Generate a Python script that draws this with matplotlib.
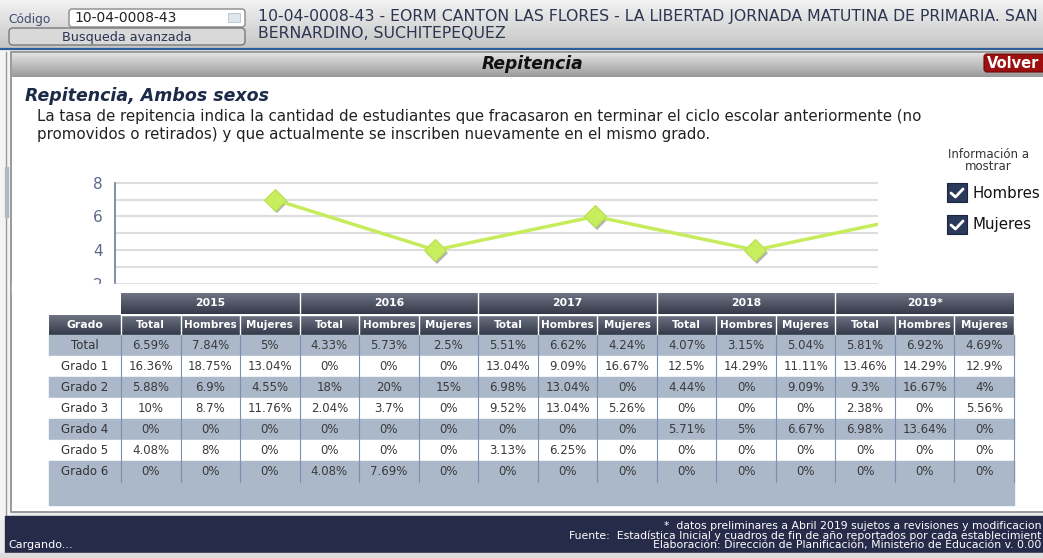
import numpy as np
import matplotlib
matplotlib.use('Agg')
import matplotlib.pyplot as plt
from matplotlib.patches import Rectangle, FancyBboxPatch
from matplotlib.transforms import offset_copy

W, H = 1043, 558

# chart data (rounded total repetition rate per year)
years = ['2015', '2016', '2017', '2018', '2019*']
chart_values = [7, 4, 6, 4, 6]

# table data
grades = ['Total', 'Grado 1', 'Grado 2', 'Grado 3', 'Grado 4', 'Grado 5', 'Grado 6']
subcols = ['Total', 'Hombres', 'Mujeres']
table_values = [
    [6.59, 7.84, 5, 4.33, 5.73, 2.5, 5.51, 6.62, 4.24, 4.07, 3.15, 5.04, 5.81, 6.92, 4.69],
    [16.36, 18.75, 13.04, 0, 0, 0, 13.04, 9.09, 16.67, 12.5, 14.29, 11.11, 13.46, 14.29, 12.9],
    [5.88, 6.9, 4.55, 18, 20, 15, 6.98, 13.04, 0, 4.44, 0, 9.09, 9.3, 16.67, 4],
    [10, 8.7, 11.76, 2.04, 3.7, 0, 9.52, 13.04, 5.26, 0, 0, 0, 2.38, 0, 5.56],
    [0, 0, 0, 0, 0, 0, 0, 0, 0, 5.71, 5, 6.67, 6.98, 13.64, 0],
    [4.08, 8, 0, 0, 0, 0, 3.13, 6.25, 0, 0, 0, 0, 0, 0, 0],
    [0, 0, 0, 4.08, 7.69, 0, 0, 0, 0, 0, 0, 0, 0, 0, 0],
]

fig = plt.figure(figsize=(W / 100, H / 100), dpi=100)

# background page
bg = fig.add_axes([0, 0, 1, 1], zorder=0)
bg.set_xlim(0, W)
bg.set_ylim(H, 0)
bg.axis('off')


def grad(ax, x0, x1, y0, y1, c_top, c_bot, z=1):
    g = np.linspace(0, 1, 50)[:, None]
    a = np.array(matplotlib.colors.to_rgb(c_top))
    b = np.array(matplotlib.colors.to_rgb(c_bot))
    img = (a[None, None, :] * (1 - g[..., None]) + b[None, None, :] * g[..., None])
    ax.imshow(img, extent=(x0, x1, y1, y0), aspect='auto', zorder=z, interpolation='bilinear')


bg.add_patch(Rectangle((0, 0), W, H, color='#ececec', zorder=0))
# top bar
grad(bg, 0, W, 0, 48, '#f2f2f2', '#c6c6c6')
bg.plot([0, W], [48.5, 48.5], color='#2f5f9a', lw=1.6, zorder=2)
bg.text(8, 19, 'Código', fontsize=8.8, color='#3c4d70', va='center', zorder=3)
bg.add_patch(FancyBboxPatch((69, 9), 176, 18, boxstyle='round,pad=0,rounding_size=3',
                            fc='white', ec='#8a8a8a', lw=1, zorder=3))
bg.text(74, 17.5, '10-04-0008-43', fontsize=10, color='#222222', va='center', zorder=4)
bg.add_patch(Rectangle((228, 13), 12, 9, fc='#e0e6ee', ec='#b8c0cc', lw=0.6, zorder=4))
bg.add_patch(FancyBboxPatch((9, 28), 236, 17, boxstyle='round,pad=0,rounding_size=4',
                            fc='#d9d9d9', ec='#7a7a7a', lw=1, zorder=3))
bg.text(127, 37, 'Busqueda avanzada', fontsize=9.2, color='#2a3350', ha='center', va='center', zorder=4)
bg.text(258, 17, '10-04-0008-43 - EORM CANTON LAS FLORES - LA LIBERTAD JORNADA MATUTINA DE PRIMARIA. SAN',
        fontsize=11.3, color='#2e3550', va='center', zorder=3)
bg.text(258, 33, 'BERNARDINO, SUCHITEPEQUEZ', fontsize=11.3, color='#2e3550', va='center', zorder=3)

# left strip
bg.add_patch(Rectangle((0, 49), 10, 470, color='#f4f4f4', zorder=1))
bg.plot([6, 6], [52, 515], color='#9a9a9a', lw=1, zorder=2)
bg.add_patch(Rectangle((5, 167), 3, 50, color='#b0b8c8', zorder=2))

# panel
bg.add_patch(Rectangle((11, 52), W, 460, fc='white', ec='#8a8a8a', lw=1.2, zorder=1))
grad(bg, 12, W, 53, 77, '#e2e2e2', '#9a9a9a', z=2)
bg.text(532, 64, 'Repitencia', fontsize=12.3, fontweight='bold', fontstyle='italic',
        color='#111111', ha='center', va='center', zorder=3)
bg.add_patch(FancyBboxPatch((984, 54), 62, 18, boxstyle='round,pad=0,rounding_size=3',
                            fc='#9e1010', ec='#6a0808', lw=0.8, zorder=3))
bg.text(1013, 63, 'Volver', fontsize=10.5, fontweight='bold', color='white', ha='center', va='center', zorder=4)

bg.text(25, 96, 'Repitencia, Ambos sexos', fontsize=12.5, fontweight='bold', fontstyle='italic',
        color='#1b2a48', va='center', zorder=3)
bg.text(37, 117, 'La tasa de repitencia indica la cantidad de estudiantes que fracasaron en terminar el ciclo escolar anteriormente (no',
        fontsize=10.8, color='#222222', va='center', zorder=3)
bg.text(37, 134, 'promovidos o retirados) y que actualmente se inscriben nuevamente en el mismo grado.',
        fontsize=10.8, color='#222222', va='center', zorder=3)

# options
bg.text(988, 155, 'Información a', fontsize=8.5, color='#333333', ha='center', va='center', zorder=3)
bg.text(988, 167, 'mostrar', fontsize=8.5, color='#333333', ha='center', va='center', zorder=3)
for yy, lab in [(193, 'Hombres'), (225, 'Mujeres')]:
    bg.add_patch(Rectangle((947, yy - 10), 20, 19, fc='#2b3a5a', ec='#1a2640', lw=0.8, zorder=3))
    bg.plot([951, 955.5, 963], [yy, yy + 4, yy - 4], color='white', lw=2, zorder=4,
            solid_capstyle='round', solid_joinstyle='round')
    bg.text(972, yy, lab, fontsize=10.8, color='#111111', va='center', zorder=3)

# footer (the page cuts these lines at the right edge)
bg.add_patch(Rectangle((5, 516), W, 37, color='#272b4a', zorder=2))
bg.add_patch(Rectangle((0, 553), W, 6, color='#dcdcdc', zorder=2))
bg.text(1041, 526, '*  datos preliminares a Abril 2019 sujetos a revisiones y modificacion',
        fontsize=7.8, color='white', ha='right', va='center', zorder=3)
bg.text(1041, 535.5, 'Fuente:  Estadística Inicial y cuadros de fin de año reportados por cada establecimient',
        fontsize=7.8, color='white', ha='right', va='center', zorder=3)
bg.text(1041, 545, 'Elaboración: Dirección de Planificación, Ministerio de Educación v. 0.00',
        fontsize=7.8, color='white', ha='right', va='center', zorder=3)
bg.text(8, 545, 'Cargando...', fontsize=8, color='white', va='center', zorder=3)

# line chart
y_top, y_bot = 178, 284
px_per_unit = 16.75
ax = fig.add_axes([115 / W, 1 - y_bot / H, (878 - 115) / W, (y_bot - y_top) / H], zorder=1)
ax.set_facecolor('white')
ax.set_ylim(8 - (y_bot - 183) / px_per_unit, 8 + (183 - y_top) / px_per_unit)
ax.set_xlim(0, (878 - 115) / 160)
for v in range(2, 9):
    ax.axhline(v, color='#dddddd', lw=1.5, zorder=1)
xs = np.arange(1, len(years) + 1)
shadow = offset_copy(ax.transData, fig=fig, x=1.5, y=-2.5, units='dots')
ax.plot(xs, chart_values, linestyle='none', marker='D', markersize=11, color='#555555',
        alpha=0.45, markeredgewidth=0, transform=shadow, zorder=2)
ax.plot(xs, chart_values, color='#c6ec5c', lw=2.5, zorder=3)
ax.plot(xs, chart_values, linestyle='none', marker='D', markersize=11,
        markerfacecolor='#c8ee5e', markeredgecolor='#b8e04c', markeredgewidth=0.8, zorder=4)
for s in ['top', 'right', 'bottom']:
    ax.spines[s].set_visible(False)
ax.spines['left'].set_color('#6c7b99')
ax.spines['left'].set_linewidth(1.2)
ax.spines['left'].set_bounds(ax.get_ylim()[0], 8)
ax.set_yticks([2, 4, 6, 8])
ax.set_xticks([])
ax.tick_params(axis='y', length=0, pad=9, labelsize=11, labelcolor='#5b6a8a')

# foreground: table
fg = fig.add_axes([0, 0, 1, 1], zorder=2)
fg.set_xlim(0, W)
fg.set_ylim(H, 0)
fg.axis('off')
fg.patch.set_alpha(0)
fg.add_patch(Rectangle((12, 284), 1030, 9, color='white', zorder=1))

col_w = (1014 - 121) / 15
x0 = 121
gx0 = 49
yr_top, yr_bot = 293, 314
hd_top, hd_bot = 315, 335
row_h = 21

for i, yr in enumerate(years):
    xa = x0 + i * 3 * col_w
    grad(fg, xa, xa + 3 * col_w, yr_top, yr_bot, '#6e7484', '#343a4a', z=2)
    fg.text(xa + 1.5 * col_w, (yr_top + yr_bot) / 2, yr, fontsize=7.8, fontweight='bold',
            color='white', ha='center', va='center', zorder=4)
grad(fg, gx0, 1014, hd_top, hd_bot, '#6e7484', '#343a4a', z=2)
fg.text((gx0 + x0) / 2, (hd_top + hd_bot) / 2, 'Grado', fontsize=7.8, fontweight='bold',
        color='white', ha='center', va='center', zorder=4)
for i in range(15):
    fg.text(x0 + (i + 0.5) * col_w, (hd_top + hd_bot) / 2, subcols[i % 3], fontsize=7.5,
            fontweight='bold', color='white', ha='center', va='center', zorder=4)
# header separators
for i in range(1, 5):
    xa = x0 + i * 3 * col_w
    fg.plot([xa, xa], [yr_top, yr_bot], color='white', lw=1, zorder=3)
for i in range(16):
    xa = x0 + i * col_w
    fg.plot([xa, xa], [hd_top, hd_bot], color='white', lw=1, zorder=3)
fg.plot([x0, 1014], [314.5, 314.5], color='white', lw=1, zorder=3)

body_top = hd_bot
for r, g in enumerate(grades):
    yt = body_top + r * row_h
    fc = '#abb8ca' if r % 2 == 0 else 'white'
    fg.add_patch(Rectangle((gx0, yt), 1014 - gx0, row_h, color=fc, zorder=2))
    fg.text((gx0 + x0) / 2, yt + row_h / 2, g, fontsize=8.5, color='#333333',
            ha='center', va='center', zorder=4)
    for c, v in enumerate(table_values[r]):
        fg.text(x0 + (c + 0.5) * col_w, yt + row_h / 2, '{:g}%'.format(v), fontsize=8.5,
                color='#3a3a3a', ha='center', va='center', zorder=4)
body_bot = body_top + len(grades) * row_h
fg.add_patch(Rectangle((gx0, body_bot), 1014 - gx0, 505 - body_bot, color='#abb8ca', zorder=2))
for i in range(16):
    xa = x0 + i * col_w
    fg.plot([xa, xa], [body_top, body_bot], color='#7d8fb0', lw=0.8, zorder=3)

fig.savefig('out.png', dpi=100)
